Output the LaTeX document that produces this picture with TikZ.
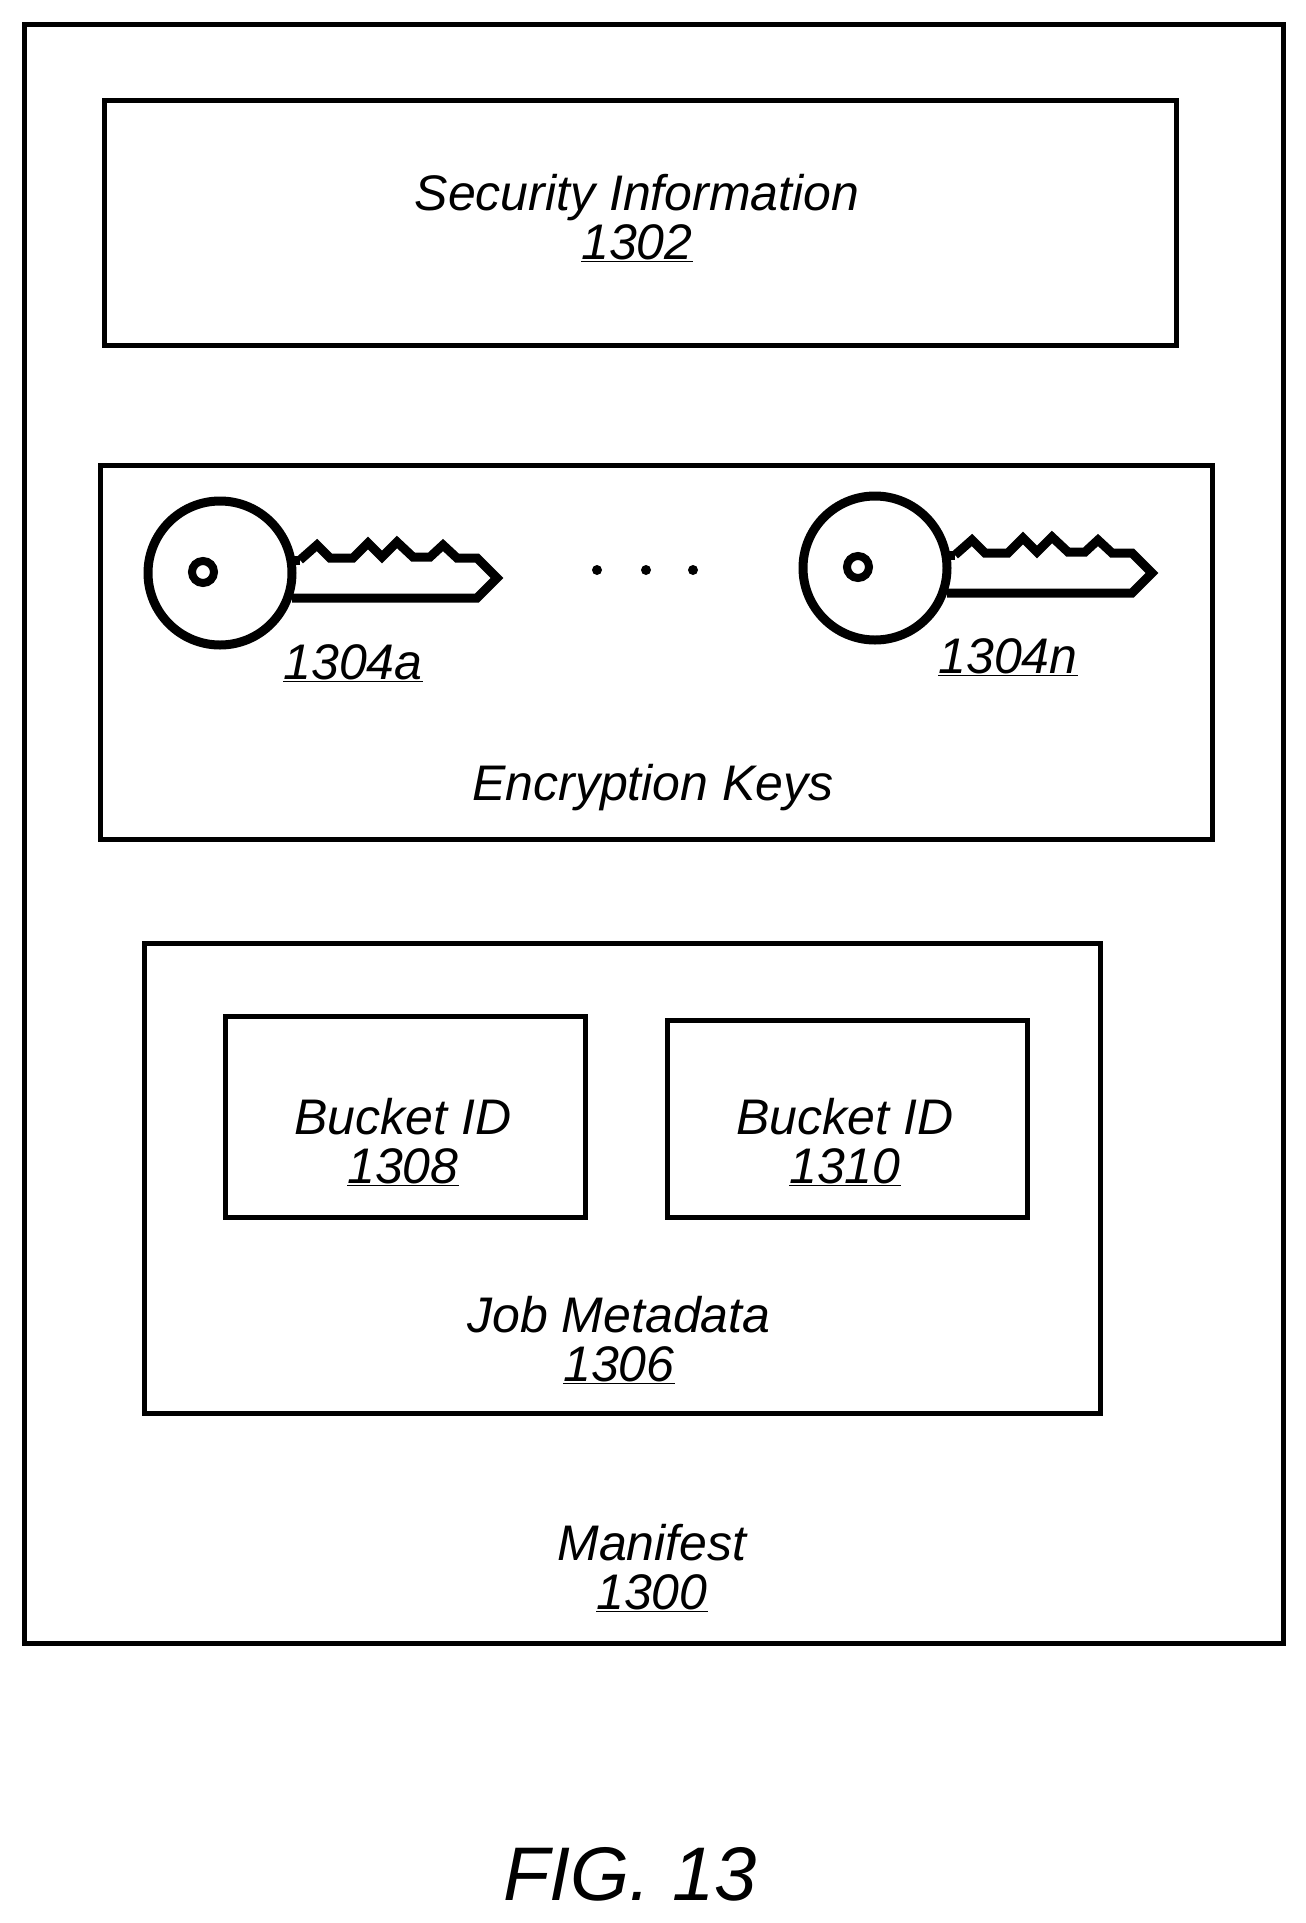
\documentclass[tikz,border=0pt]{standalone}
\usepackage{fontspec}
\setmainfont{Liberation Sans}
\begin{document}
\begin{tikzpicture}[x=1pt,y=-1pt,
  box/.style={draw,line width=5pt},
  lbl/.style={font=\fontsize{50}{49}\selectfont\itshape,align=center,inner sep=0},
  key/.style={line width=9pt,line join=miter}]
\useasboundingbox (0,0) rectangle (1306,1923);
\node[box,minimum width=1259pt,minimum height=1619pt,anchor=north west,inner sep=0] (manifest) at (22,22) {};
\node[box,minimum width=1072pt,minimum height=245pt,anchor=north west,inner sep=0] (sec) at (102,98) {};
\node[box,minimum width=1112pt,minimum height=374pt,anchor=north west,inner sep=0] (enc) at (98,463) {};
\node[box,minimum width=956pt,minimum height=470pt,anchor=north west,inner sep=0] (job) at (142,941) {};
\node[box,minimum width=360pt,minimum height=201pt,anchor=north west,inner sep=0] (b1) at (223,1014) {};
\node[box,minimum width=360pt,minimum height=197pt,anchor=north west,inner sep=0] (b2) at (665,1018) {};
\node[lbl] (tsec) at (637,218) {Security Information\\\underline{1302}};
\node[lbl] (tenc) at (653,788) {Encryption Keys};
\node[lbl] (tb1) at (403,1142) {Bucket ID\\\underline{1308}};
\node[lbl] (tb2) at (845,1142) {Bucket ID\\\underline{1310}};
\node[lbl] (tjob) at (619,1340) {Job Metadata\\\underline{1306}};
\node[lbl] (tman) at (652,1568) {Manifest\\\underline{1300}};
\node[lbl] (ka) at (353,663) {\underline{1304a}};
\node[lbl] (kn) at (1008,657) {\underline{1304n}};
\node[font=\fontsize{76}{80}\selectfont\itshape,inner sep=0] (fig) at (630,1874) {FIG. 13};
\foreach \dx/\dy in {0/0,655/-5}{
\begin{scope}[shift={(\dx,\dy)}]
\draw[key] (300,560)--(317,545)--(330,558)--(353,558)--(368,543)--(382,557)--(397,542)--(413,557)--(430,557)--(443,545)--(457,558)--(477,558)--(497,578)--(477,598)--(292,598);
\draw[key] (292,560)--(300,560);
\draw[key,fill=white] (220,573) circle (72);
\draw[line width=8pt] (203,572) circle (11);
\end{scope}}
\foreach \x in {597,646,693} \fill (\x,570) circle (5);
\end{tikzpicture}
\end{document}
